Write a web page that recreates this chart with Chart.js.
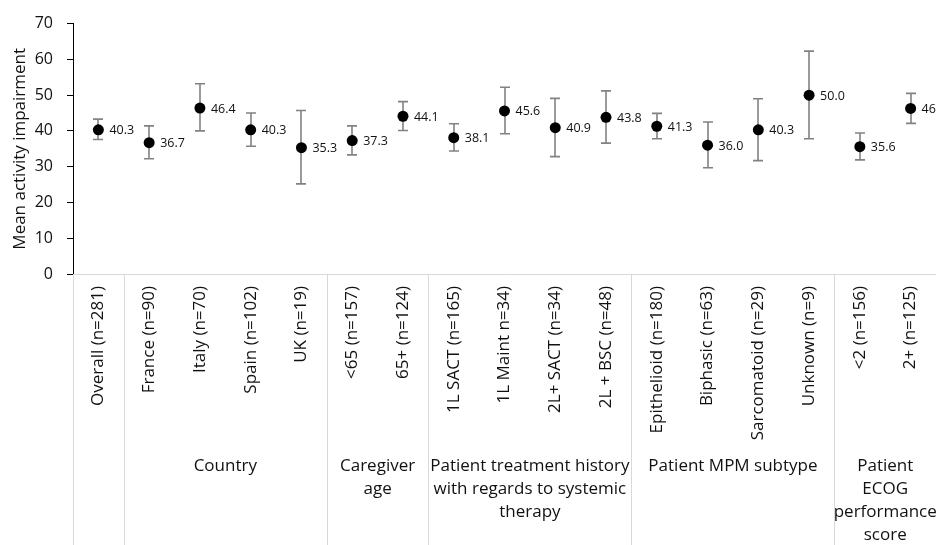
<!DOCTYPE html>
<html>
<head>
<meta charset="utf-8">
<script src="https://cdn.jsdelivr.net/npm/chart.js@4.4.1/dist/chart.umd.min.js"></script>
<style>
  html, body { margin: 0; padding: 0; background: #fff; }
  #wrap { width: 936px; height: 545px; }
</style>
</head>
<body>
<div id="wrap"><canvas id="chart"></canvas></div>
<script>
const categories = [
  "Overall (n=281)",
  "France (n=90)", "Italy (n=70)", "Spain (n=102)", "UK (n=19)",
  "<65 (n=157)", "65+ (n=124)",
  "1L SACT (n=165)", "1L Maint n=34)", "2L+ SACT (n=34)", "2L + BSC (n=48)",
  "Epithelioid (n=180)", "Biphasic (n=63)", "Sarcomatoid (n=29)", "Unknown (n=9)",
  "<2 (n=156)", "2+ (n=125)"
];
const means = [40.3, 36.7, 46.4, 40.3, 35.3, 37.3, 44.1, 38.1, 45.6, 40.9, 43.8, 41.3, 36.0, 40.3, 50.0, 35.6, 46.3];
const lower = [37.6, 32.2, 40.0, 35.7, 25.2, 33.3, 40.1, 34.4, 39.2, 32.8, 36.6, 37.8, 29.7, 31.7, 37.8, 31.9, 42.1];
const upper = [43.3, 41.4, 53.2, 45.0, 45.7, 41.4, 48.2, 42.0, 52.2, 49.1, 51.2, 44.9, 42.5, 49.0, 62.3, 39.4, 50.5];

// group captions under the category labels, and how many categories each covers
const groupLabels = [
  [],
  ["Country"],
  ["Caregiver", "age"],
  ["Patient treatment history", "with regards to systemic", "therapy"],
  ["Patient MPM subtype"],
  ["Patient", "ECOG", "performance", "score"]
];
const groupSizes = [1, 4, 2, 4, 4, 2];

const FONT = "'Open Sans', sans-serif";
const TEXT = "#111";

const overlay = {
  id: "overlay",
  beforeDatasetsDraw(chart) {
    const { ctx, scales: { x, y } } = chart;
    ctx.save();
    ctx.strokeStyle = "#828282";
    ctx.lineWidth = 1.6;
    means.forEach((m, i) => {
      const px = Math.round(x.getPixelForValue(i));
      const top = y.getPixelForValue(upper[i]);
      const bot = y.getPixelForValue(lower[i]);
      ctx.beginPath();
      ctx.moveTo(px, top); ctx.lineTo(px, bot);
      ctx.moveTo(px - 5, top); ctx.lineTo(px + 5, top);
      ctx.moveTo(px - 5, bot); ctx.lineTo(px + 5, bot);
      ctx.stroke();
    });
    ctx.restore();
  },
  afterDatasetsDraw(chart) {
    const { ctx, scales: { x, y } } = chart;
    ctx.save();
    ctx.font = "12.5px " + FONT;
    ctx.fillStyle = TEXT;
    ctx.textAlign = "left";
    ctx.textBaseline = "middle";
    means.forEach((m, i) => {
      ctx.fillText(m.toFixed(1), x.getPixelForValue(i) + 11, y.getPixelForValue(m) + 1);
    });
    ctx.restore();
  },
  afterDraw(chart) {
    const { ctx, scales: { x }, chartArea } = chart;
    const bottom = chart.height;
    const step = x.getPixelForValue(1) - x.getPixelForValue(0);
    ctx.save();
    ctx.strokeStyle = "#d9d9d9";
    ctx.lineWidth = 1;
    // axis line under the plot
    ctx.beginPath();
    ctx.moveTo(chartArea.left, chartArea.bottom + 0.5);
    ctx.lineTo(chartArea.right, chartArea.bottom + 0.5);
    ctx.stroke();

    ctx.font = "17px " + FONT;
    ctx.fillStyle = TEXT;
    ctx.textAlign = "center";
    ctx.textBaseline = "middle";
    let start = 0;
    groupSizes.forEach((n, g) => {
      const left = x.getPixelForValue(start) - step / 2;
      const right = x.getPixelForValue(start + n - 1) + step / 2;
      const lx = Math.round(left) + 0.5;
      ctx.beginPath();
      ctx.moveTo(lx, chartArea.bottom);
      ctx.lineTo(lx, bottom);
      ctx.stroke();
      groupLabels[g].forEach((line, k) => {
        ctx.fillText(line, (left + right) / 2, 466 + k * 23);
      });
      start += n;
    });
    ctx.restore();
  }
};

new Chart(document.getElementById("chart"), {
  type: "line",
  data: {
    labels: categories,
    datasets: [
      {
        data: means,
        showLine: false,
        pointRadius: 5.5,
        pointHoverRadius: 5.5,
        pointBackgroundColor: "#000",
        pointBorderColor: "#000",
        pointBorderWidth: 0,
      },
    ],
  },
  options: {
    responsive: true,
    maintainAspectRatio: false,
    animation: false,
    layout: { autoPadding: false, padding: { top: 20, left: 0, right: 0, bottom: 0 } },
    plugins: { legend: { display: false }, tooltip: { enabled: false } },
    scales: {
      x: {
        type: "category",
        offset: true,
        afterFit: (scale) => {
          scale.height = 271;
          scale.paddingLeft = 0;
          scale.paddingRight = 0;
        },
        grid: { display: false },
        border: { display: false },
        ticks: {
          color: TEXT,
          font: { family: FONT, size: 17 },
          minRotation: 90,
          maxRotation: 90,
          autoSkip: false,
          padding: 4,
        },
      },
      y: {
        min: 0,
        max: 70,
        afterFit: (scale) => { scale.width = 73; },
        grid: { drawOnChartArea: false, drawTicks: true, tickLength: 6, color: "#000" },
        border: { display: true, color: "#000", width: 1 },
        ticks: { stepSize: 10, color: TEXT, font: { family: FONT, size: 16 }, padding: 14 },
        title: {
          display: true,
          text: "Mean activity impairment",
          color: TEXT,
          font: { family: FONT, size: 17 },
          padding: { top: 10, bottom: 0 },
        },
      },
    },
  },
  plugins: [overlay],
});
</script>
</body>
</html>
